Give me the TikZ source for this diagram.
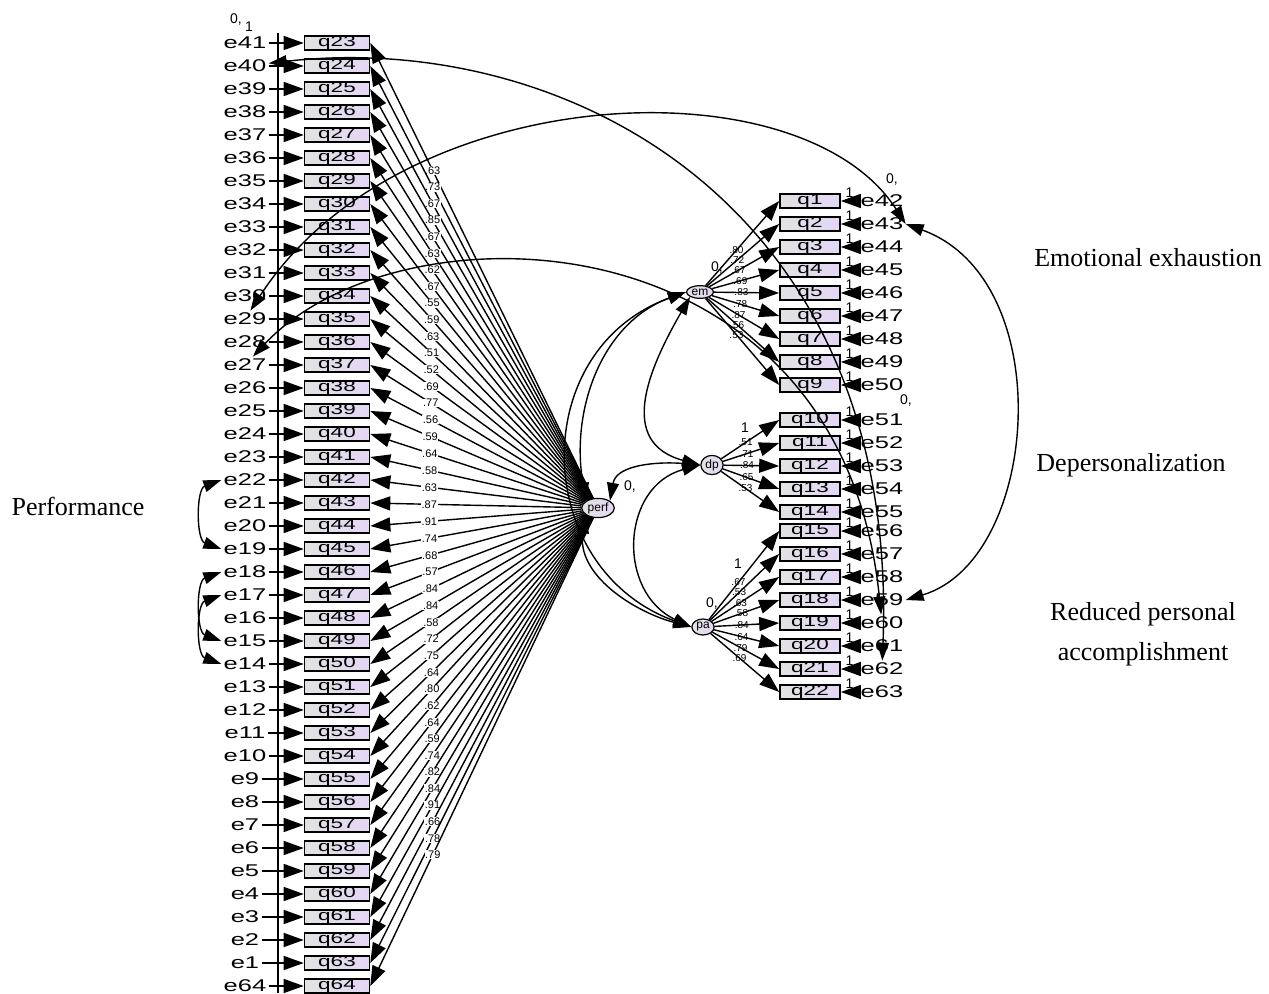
\documentclass[tikz,border=0pt]{standalone}
\usepackage{fontspec}
\usepackage{graphicx}
\setmainfont{Liberation Serif}
\newfontfamily\amosfont{Liberation Sans}
\usetikzlibrary{arrows.meta,shapes.geometric}
\definecolor{boxgray}{RGB}{226,226,226}
\definecolor{boxlilac}{RGB}{228,214,246}
\newcommand{\widen}[1]{\scalebox{1.5}[1]{#1}}

\begin{document}
\begin{tikzpicture}[x=0.5pt,y=-0.5pt,
  item/.style={draw,line width=0.8pt,inner sep=0pt,minimum height=7pt,left color=boxgray,right color=boxlilac,font=\amosfont\fontsize{7.5}{7.5}\selectfont},
  leftitem/.style={item,minimum width=32.5pt},
  rightitem/.style={item,minimum width=30pt},
  latent/.style={ellipse,draw,line width=0.6pt,inner sep=0.6pt,left color=boxgray,right color=boxlilac,font=\amosfont\fontsize{6}{6}\selectfont},
  errlab/.style={inner sep=1pt,font=\amosfont\fontsize{8.5}{8.5}\selectfont},
  oneway/.style={-{Triangle[length=10pt,width=7pt]},line width=0.7pt},
  twoway/.style={{Triangle[length=9pt,width=6pt]}-{Triangle[length=9pt,width=6pt]},line width=0.7pt},
  loadlab/.style={fill=white,inner sep=0.3pt,font=\amosfont\fontsize{5.5}{5.5}\selectfont},
  rloadlab/.style={inner sep=0.3pt,font=\amosfont\fontsize{5}{5}\selectfont},
  note/.style={inner sep=0.5pt,font=\amosfont\fontsize{7}{7}\selectfont},
  factorname/.style={font=\fontsize{13}{20}\selectfont,align=center}]
\useasboundingbox (0,0) rectangle (1269,994);

% left column, q23 to q64
\coordinate (railtop) at (278,33);
\coordinate (railbot) at (278,993);
\draw[line width=0.6pt] (railtop) -- (railbot);
\foreach \k [count=\i from 0] in {23,...,64}
  \node[leftitem] (q\k) at (337,{43+23*\i}) {\widen{q\k}};
\foreach \k in {23,...,63} {
  \pgfmathtruncatemacro{\en}{64-\k}
  \node[errlab] (e\en) at (245,{43+23*(\k-23)}) {\widen{e\en}};
  \draw[oneway] (e\en) -- (q\k);
}
\node[errlab] (e64) at (245,986) {\widen{e64}};
\draw[oneway] (e64) -- (q64);
\node[note] (topzero) at (236,20) {0,};
\node[note] (topone) at (249,27) {1};

% right column, q1 to q22
\foreach \k/\y in {1/201,2/224,3/247,4/270,5/293,6/316,7/339,8/362,9/385,10/420,11/443,12/466,13/489,14/512,15/531,16/554,17/577,18/600,19/623,20/646,21/669,22/692} {
  \node[rightitem] (q\k) at (810,\y) {\widen{q\k}};
  \pgfmathtruncatemacro{\en}{41+\k}
  \node[errlab] (e\en) at (882,\y) {\widen{e\en}};
  \draw[oneway] (e\en) -- (q\k) node[note,midway,above=1pt] {1};
}
\node[note] (errzeroA) at (892,180) {0,};
\node[note] (errzeroB) at (906,401) {0,};

% latent variables
\node[latent] (perf) at (598,508) {perf};
\node[latent] (em) at (700,292) {em};
\node[latent] (dp) at (712,465) {dp};
\node[latent] (pa) at (703,627) {pa};
\node[note] (perfzero) at (630,487) {0,};
\node[note] (emzero) at (717,268) {0,};
\node[note] (pazero) at (712,604) {0,};
\node[note] (dpone) at (745,428) {1};
\node[note] (paone) at (738,564) {1};

\foreach \v [count=\k from 23] in {63,73,67,85,67,63,62,67,55,59,63,51,52,69,77,56,59,64,58,63,87,91,74,68,57,84,84,58,72,75,64,80,62,64,59,74,82,84,91,66,78,79}
  \draw[oneway] (perf) -- (q\k.east) node[loadlab,pos=0.72] {.\v};
\foreach \v [count=\k from 1] in {80,72,67,69,83,78,87,56,53}
  \draw[oneway] (em) -- (q\k.west) node[rloadlab,pos=0.42] {.\v};
\foreach \v [count=\k from 10] in {51,71,84,65,53}
  \draw[oneway] (dp) -- (q\k.west) node[rloadlab,pos=0.42] {.\v};
\foreach \v [count=\k from 15] in {67,53,63,58,84,64,79,69}
  \draw[oneway] (pa) -- (q\k.west) node[rloadlab,pos=0.42] {.\v};

% covariances
\draw[twoway] (em.west) to[out=200,in=160,looseness=1.3] (pa.west);
\draw[twoway] (perf.north west) to[out=100,in=200] (em.west);
\draw[twoway] (perf.south west) to[out=260,in=165] (pa.west);
\draw[twoway] (perf.north east) to[out=80,in=175] (dp.west);
\draw[twoway] (em.south west) to[out=240,in=165,looseness=1.3] (dp.west);
\draw[twoway] (dp.west) to[out=195,in=155,looseness=1.3] (pa.west);

\draw[twoway] (e40) .. controls (560,30) and (900,200) .. (e62);
\draw[twoway] (e29) .. controls (400,80) and (800,60) .. (e43.east);
\draw[twoway] (e27) .. controls (400,200) and (840,210) .. (e60);
\draw[twoway] (e43.east) .. controls (1060,280) and (1040,560) .. (e59.east);
\draw[twoway] (e22.west) to[bend right=70] (e19.west);
\draw[twoway] (e18.west) to[bend right=70] (e15.west);
\draw[twoway] (e17.west) to[bend right=70] (e14.west);

\node[factorname] (eelabel) at (1148,258) {Emotional exhaustion};
\node[factorname] (dplabel) at (1131,465) {Depersonalization};
\node[factorname] (palabel) at (1143,634) {Reduced personal\\accomplishment};
\node[factorname] (perflabel) at (78,506) {Performance};
\end{tikzpicture}
\end{document}
